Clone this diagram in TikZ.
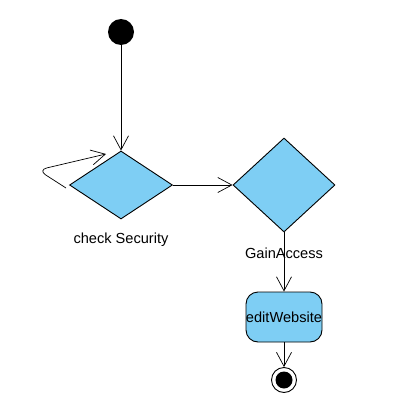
\documentclass[tikz,border=0pt]{standalone}
\usepackage{fontspec}
\setmainfont{Liberation Sans}
\usetikzlibrary{shapes.geometric,arrows.meta}
\definecolor{nodeblue}{RGB}{126,206,244}
\tikzset{
  every picture/.style={x=1pt,y=-1pt},
  dec/.style={diamond,draw=black,fill=nodeblue,line width=0.9pt,inner sep=0pt},
  act/.style={draw=black,fill=nodeblue,line width=0.9pt,rounded corners=12pt,minimum width=76pt,minimum height=50pt,inner sep=0pt},
  lbl/.style={font=\fontsize{14.6}{17}\selectfont,inner sep=0pt},
  flow/.style={draw=black,line width=0.7pt,-{Straight Barb[length=14pt,width=15pt,line width=0.7pt]}},
}
\begin{document}
\begin{tikzpicture}
\useasboundingbox (0,0) rectangle (411,417);
\node[circle,fill=black,minimum size=26pt,inner sep=0pt] (start) at (121,32) {};
\node[dec,minimum width=103pt,minimum height=68pt,aspect=1.5] (d1) at (121,185) {};
\node[dec,minimum width=102pt,minimum height=94pt] (d2) at (284,185) {};
\node[lbl] (l1) at (121,240) {check Security};
\node[act] (edit) at (284,317) {};
\node[circle,draw=black,fill=white,line width=0.9pt,minimum size=25pt,inner sep=0pt] (end) at (284,380) {};
\node[circle,fill=black,minimum size=17pt,inner sep=0pt] (endin) at (end) {};
\draw[flow] (start) -- (d1.north);
\draw[flow] (d1.east) -- (d2.west);
\node[lbl] (l2) at (284,253) {GainAccess};
\draw[flow] (d2.south) -- (edit.north);
\draw[flow] (edit.south) -- (end.north);
\node[lbl] (l3) at (284,317) {editWebsite};
\coordinate (ls) at (66,188);
\coordinate (lc) at (38,170);
\coordinate (lt) at (106,154);
\draw[flow,rounded corners=9pt] (ls) -- (lc) -- (lt);
\end{tikzpicture}
\end{document}
